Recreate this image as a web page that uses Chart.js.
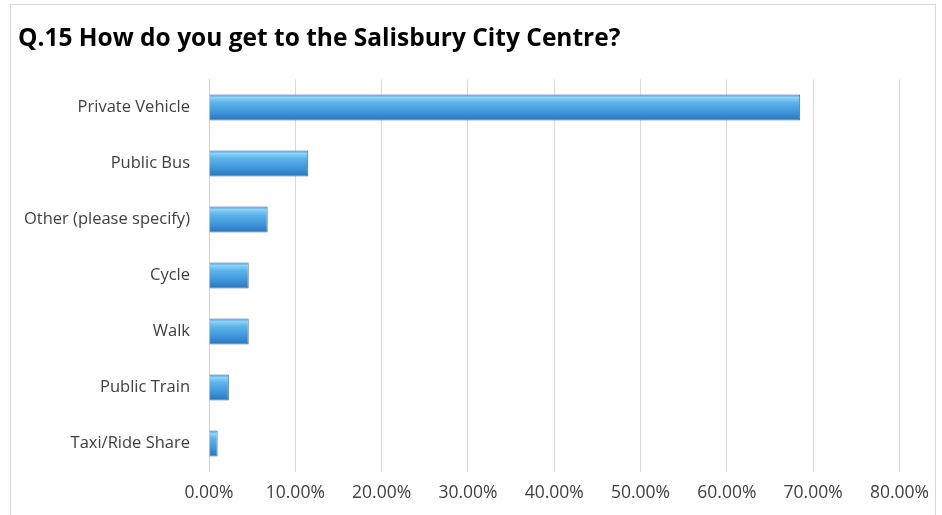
<!DOCTYPE html>
<html>
<head>
<meta charset="utf-8">
<script src="https://cdn.jsdelivr.net/npm/chart.js@4/dist/chart.umd.min.js"></script>
<style>
  body { margin: 0; background: #fff; }
  #frame {
    position: absolute; left: 10px; top: 4px; width: 926px; height: 515px;
    border: 1px solid #d9d9d9; box-sizing: border-box; background: #fff;
  }
  #wrap { position: absolute; left: 0; top: 0; width: 942px; height: 515px; }
</style>
</head>
<body>
<div id="frame"></div>
<div id="wrap"><canvas id="modeChart" width="942" height="515"></canvas></div>
<script>
// Data
const categories = [
  "Private Vehicle",
  "Public Bus",
  "Other (please specify)",
  "Cycle",
  "Walk",
  "Public Train",
  "Taxi/Ride Share",
];
const shares = [68.5, 11.5, 6.8, 4.6, 4.6, 2.3, 1.0];
const xTicks = [0, 10, 20, 30, 40, 50, 60, 70, 80];

// Bevel-ish blue gradient per bar
function barFill(context) {
  const chart = context.chart;
  if (!chart.chartArea) return "#4a9fe0";
  const yScale = chart.scales.y;
  const yc = yScale.getPixelForValue(context.dataIndex);
  const h = 26;
  const g = chart.ctx.createLinearGradient(0, yc - h / 2, 0, yc + h / 2);
  g.addColorStop(0, "#3f95dc");
  g.addColorStop(0.12, "#8fd3f7");
  g.addColorStop(0.3, "#5db5ec");
  g.addColorStop(0.75, "#3a8fd6");
  g.addColorStop(1, "#2b73b6");
  return g;
}

document.addEventListener("DOMContentLoaded", () => {
  const ctx = document.getElementById("modeChart").getContext("2d");
  new Chart(ctx, {
    type: "bar",
    data: {
      labels: categories,
      datasets: [
        {
          data: shares,
          backgroundColor: barFill,
          borderColor: "#2f6ea8",
          borderWidth: 1,
          barPercentage: 0.465,
          categoryPercentage: 1,
        },
      ],
    },
    options: {
      indexAxis: "y",
      responsive: false,
      animation: false,
      layout: { padding: { left: 18, right: 40, top: 4, bottom: 0 } },
      plugins: {
        legend: { display: false },
        tooltip: { enabled: false },
        title: {
          display: true,
          text: "Q.15 How do you get to the Salisbury City Centre?",
          align: "start",
          color: "#000",
          font: { family: "'Open Sans', sans-serif", size: 24.5, weight: "bold" },
          padding: { top: 20, bottom: 26 },
        },
      },
      scales: {
        x: {
          min: 0,
          max: 80,
          afterBuildTicks: (axis) => {
            axis.ticks = xTicks.map((v) => ({ value: v }));
          },
          grid: { color: "#d9d9d9", lineWidth: 1, drawTicks: false },
          border: { display: false },
          ticks: {
            color: "#404040",
            padding: 13,
            font: { family: "'Open Sans', sans-serif", size: 17.5, lineHeight: 1 },
            callback: (v) => v.toFixed(2) + "%",
          },
        },
        y: {
          afterFit: (axis) => {
            axis.width = 191;
          },
          grid: { display: false },
          border: { display: true, color: "#d0d0d0" },
          ticks: {
            color: "#404040",
            padding: 11,
            font: { family: "'Open Sans', sans-serif", size: 16.5 },
          },
        },
      },
    },
  });
});
</script>
</body>
</html>
